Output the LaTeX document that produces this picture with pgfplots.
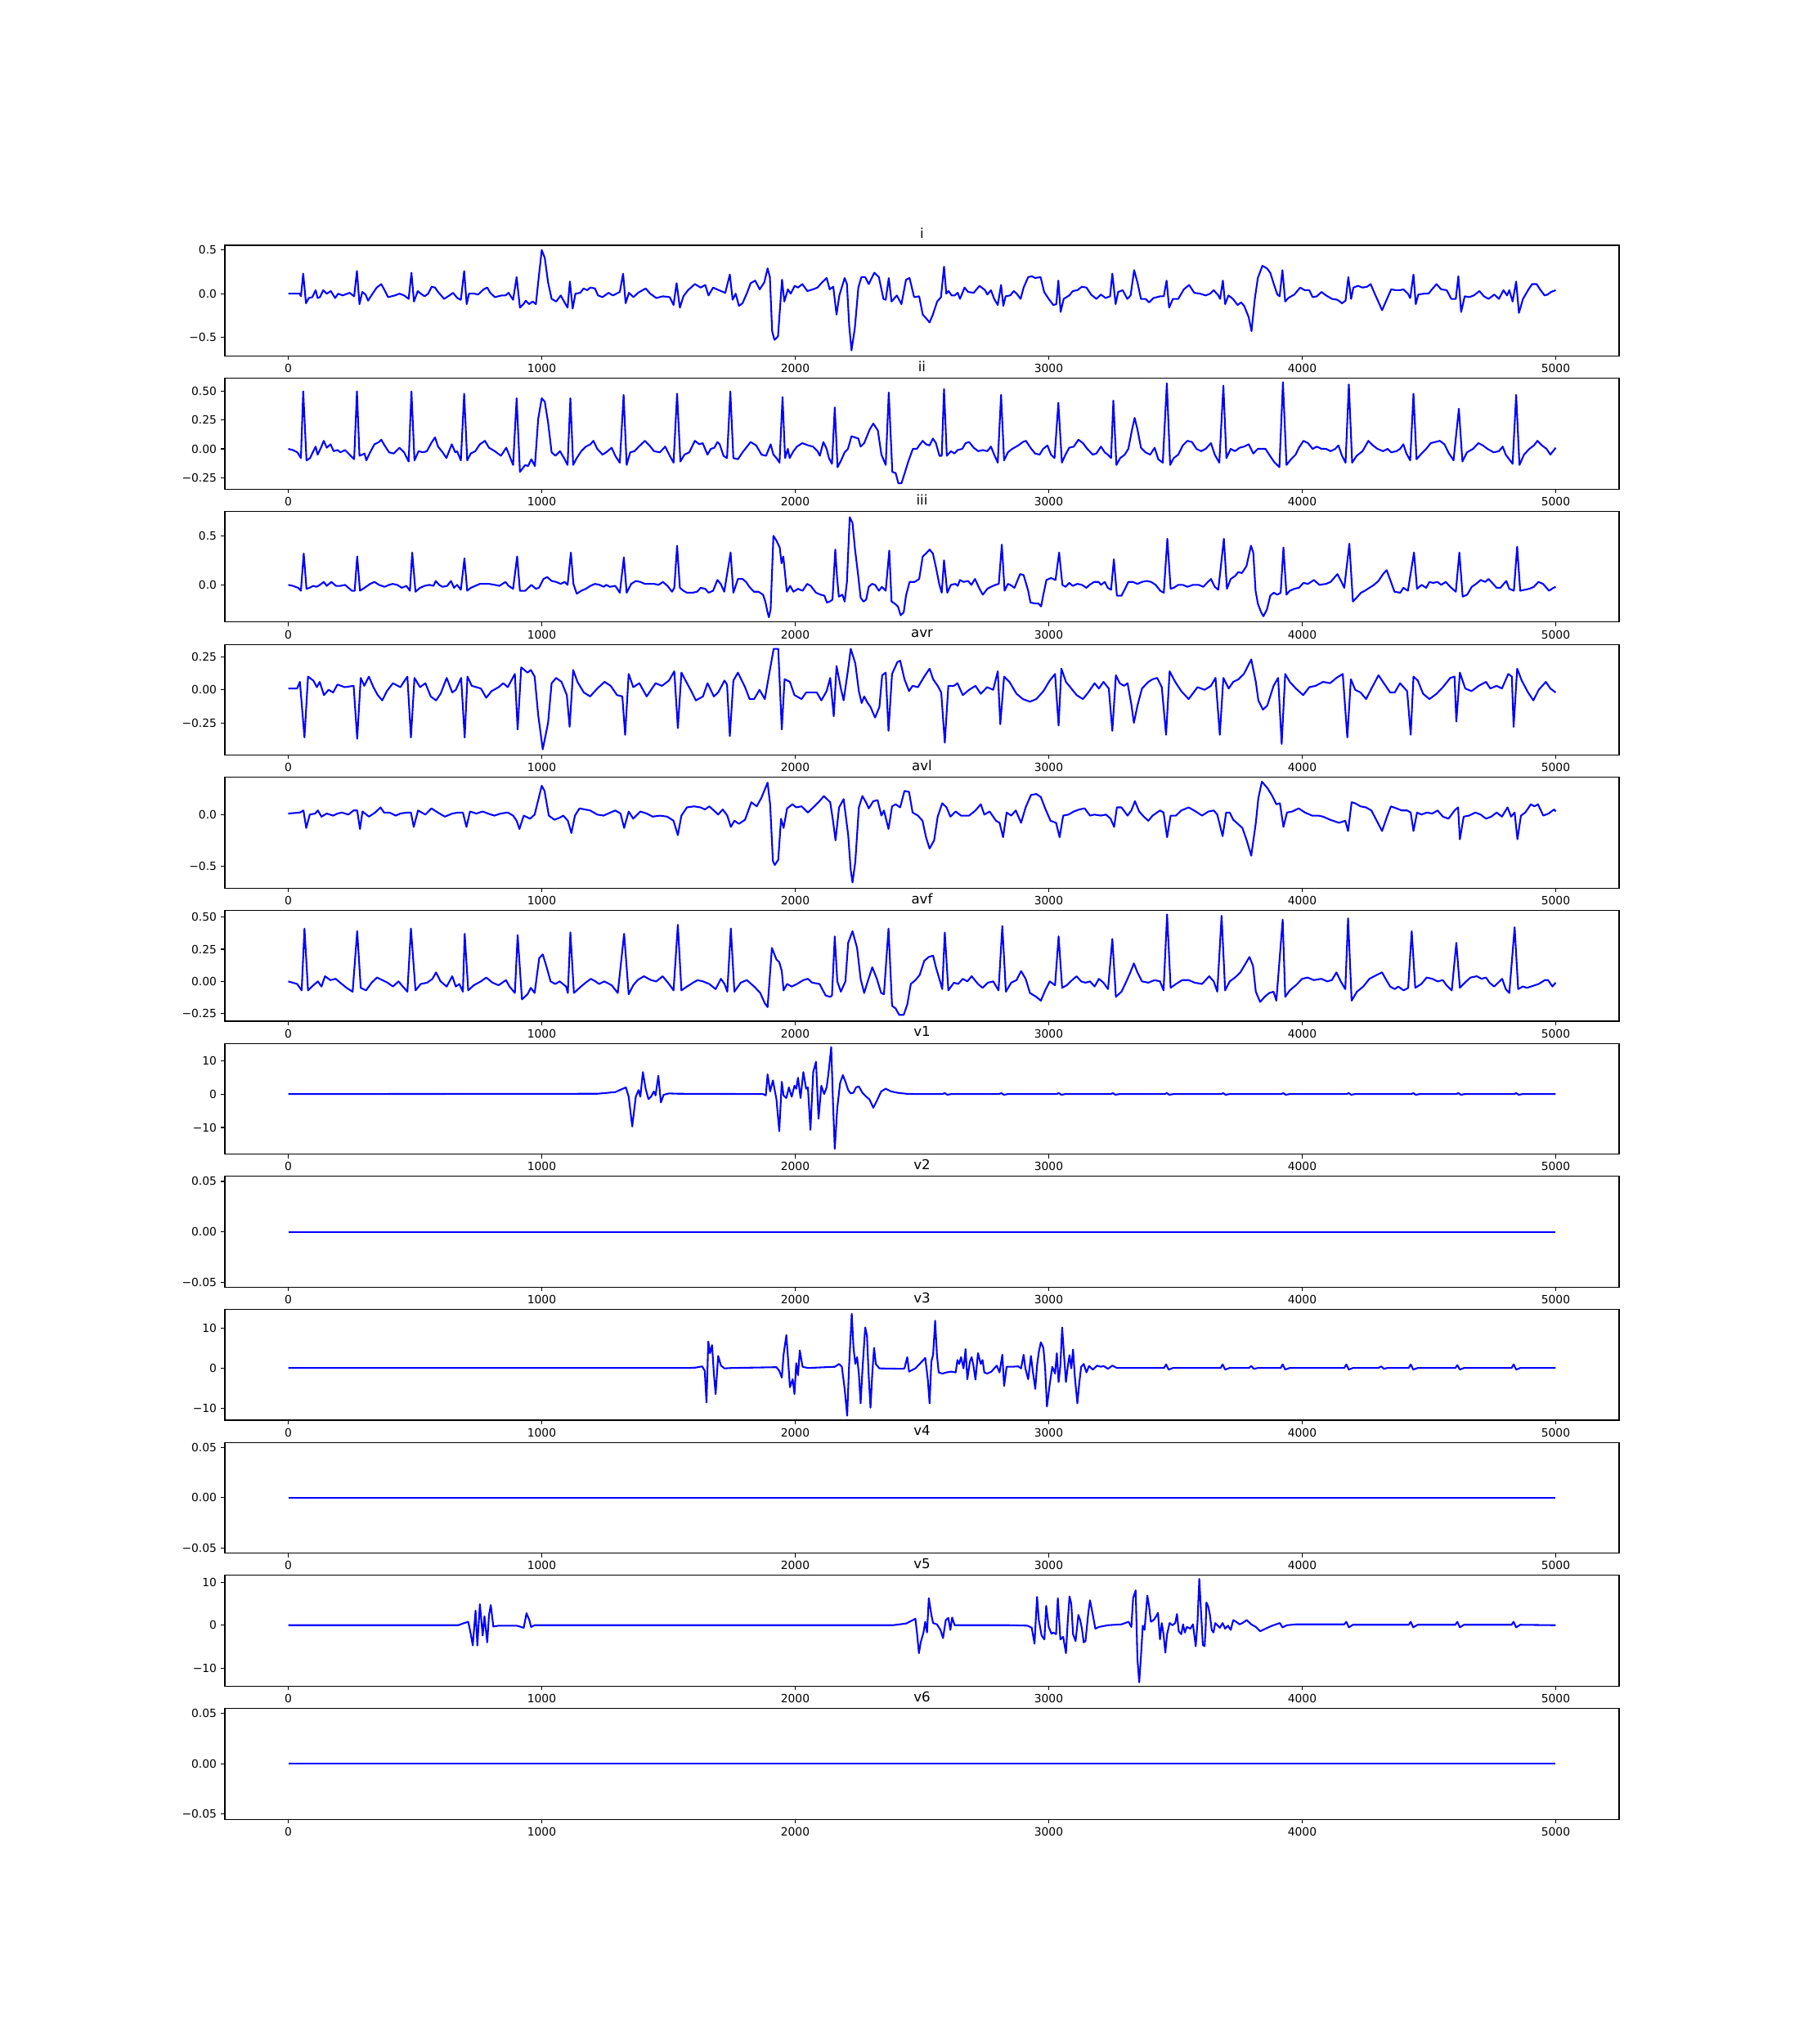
\documentclass[border=0pt]{standalone}
\usepackage{fontspec}
\setmainfont{DejaVu Sans}
\usepackage{pgfplots}
\pgfplotsset{compat=1.18}
\pgfplotsset{
  ecg/.style={
    width=17.05in, height=1.3556in, scale only axis, anchor=north west,
    xmin=-250, xmax=5250,
    xtick={0,1000,2000,3000,4000,5000},
    xticklabels={0,1000,2000,3000,4000,5000},
    tick align=outside, tick pos=left,
    major tick length=3.5pt,
    line width=0.8pt,
    every tick/.style={black, line width=0.8pt},
    tick label style={font=\fontsize{10}{12}\selectfont},
    every axis title shift=0pt,
    title style={font=\fontsize{12}{14}\selectfont, at={(0.5,1)}, anchor=base, yshift=6pt},
    scaled ticks=false,
  },
  ecgline/.style={blue, line width=1.5pt, line join=round},
  flat/.style={ymin=-0.055, ymax=0.055, ytick={-0.05,0,0.05}, yticklabels={−0.05,0.00,0.05}},
}
\begin{document}
\begin{tikzpicture}
\path (0,0) rectangle (22in,-25in);

% ---------- i ----------
\begin{axis}[ecg, at={(2.75in,-3.0in)}, title={i},
  ymin=-0.716, ymax=0.555, ytick={-0.5,0,0.5}, yticklabels={−0.5,0.0,0.5}]
\addplot[ecgline] coordinates {(0,0) (45,0) (50,-0.03) (59,0.23) (70,-0.11) (81,-0.05) (95,-0.04) (108,0.04) (116,-0.05) (125,-0.04) (138,0.04) (152,0) (168,0.03) (185,-0.05) (197,0) (215,-0.02) (242,0.01) (260,-0.03) (271,0.26) (281,-0.12) (292,0.02) (305,-0.01) (315,-0.08) (328,-0.02) (349,0.07) (367,0.11) (380,0.04) (394,-0.04) (421,-0.02) (439,0) (457,-0.02) (475,-0.06) (486,0.24) (496,-0.09) (511,0.03) (523,0) (538,-0.03) (552,0) (566,0.08) (579,0.07) (591,0.02) (615,-0.06) (636,-0.02) (650,0.01) (667,-0.05) (681,-0.07) (694,0.26) (704,-0.12) (713,0) (735,0) (749,-0.01) (771,0.05) (785,0.07) (797,0.01) (815,-0.04) (842,-0.02) (857,-0.02) (869,0.01) (887,-0.07) (901,0.19) (914,-0.16) (928,-0.12) (937,-0.08) (950,-0.12) (964,-0.09) (977,-0.12) (986,0.13) (1000,0.50) (1012,0.41) (1025,0.13) (1039,-0.06) (1057,-0.09) (1075,-0.02) (1088,-0.09) (1102,-0.16) (1111,0.14) (1122,-0.17) (1133,0) (1152,0.01) (1165,0.06) (1179,0.04) (1192,0.07) (1210,0.06) (1222,-0.02) (1240,-0.04) (1263,0.01) (1281,-0.02) (1308,0.02) (1321,0.23) (1331,-0.11) (1344,0.01) (1362,-0.04) (1380,0.01) (1410,0.06) (1428,0) (1452,-0.05) (1478,-0.03) (1505,-0.04) (1520,-0.13) (1532,0.12) (1545,-0.16) (1559,-0.03) (1577,0.04) (1604,0.11) (1627,0.07) (1645,0.10) (1658,-0.02) (1676,0.07) (1699,0.04) (1724,0.01) (1742,0.22) (1753,-0.07) (1765,0) (1778,-0.14) (1792,-0.11) (1810,0.01) (1824,0.12) (1842,0.15) (1860,0.05) (1878,0.13) (1891,0.29) (1900,0.19) (1909,-0.43) (1918,-0.53) (1932,-0.49) (1948,0.16) (1957,-0.09) (1971,0.05) (1982,0) (1998,0.09) (2011,0.07) (2028,0.11) (2048,0.03) (2070,0.05) (2088,0.07) (2106,0.13) (2124,0.18) (2136,0.05) (2150,0.08) (2163,-0.24) (2174,-0.02) (2195,0.18) (2204,0.11) (2213,-0.37) (2222,-0.65) (2235,-0.40) (2249,0.07) (2261,0.19) (2276,0.19) (2290,0.11) (2312,0.24) (2330,0.19) (2348,-0.06) (2357,-0.07) (2369,0.18) (2380,-0.09) (2401,-0.02) (2419,-0.12) (2437,0.16) (2451,0.18) (2469,-0.04) (2489,-0.03) (2503,-0.24) (2516,-0.28) (2530,-0.33) (2543,-0.24) (2560,-0.09) (2575,-0.04) (2587,0.31) (2596,0) (2605,0.03) (2617,-0.02) (2629,-0.02) (2641,0.01) (2650,-0.06) (2668,0.07) (2682,0.02) (2704,0.01) (2727,0.09) (2749,0.04) (2758,-0.01) (2772,0.04) (2785,-0.06) (2799,-0.13) (2812,0.10) (2821,-0.14) (2830,-0.03) (2848,-0.02) (2862,0.03) (2874,0) (2889,-0.06) (2901,0.07) (2919,0.19) (2934,0.20) (2946,0.18) (2968,0.19) (2982,0.02) (3000,-0.06) (3018,-0.13) (3030,-0.12) (3038,0.15) (3047,-0.21) (3059,-0.06) (3081,-0.02) (3095,0.03) (3113,0.04) (3131,0.08) (3149,0.07) (3167,-0.01) (3188,-0.06) (3206,-0.01) (3224,-0.05) (3242,-0.03) (3251,0.23) (3264,-0.12) (3274,0.02) (3292,0.04) (3310,-0.06) (3323,-0.02) (3337,0.27) (3350,0.13) (3364,-0.06) (3382,-0.06) (3396,-0.10) (3413,-0.05) (3440,-0.03) (3454,-0.03) (3465,0.15) (3475,-0.16) (3490,-0.06) (3511,-0.06) (3533,0.05) (3554,0.10) (3574,0.01) (3597,0) (3619,-0.02) (3637,0) (3651,0.04) (3669,-0.02) (3676,-0.06) (3687,0.15) (3696,-0.12) (3709,-0.02) (3727,-0.06) (3745,-0.13) (3759,-0.10) (3771,-0.14) (3789,-0.27) (3800,-0.43) (3813,-0.06) (3825,0.18) (3843,0.32) (3861,0.29) (3874,0.24) (3888,0.11) (3902,-0.01) (3911,-0.03) (3922,0.27) (3933,-0.09) (3945,-0.05) (3969,-0.01) (3992,0.07) (4010,0.04) (4028,0.04) (4041,-0.04) (4058,-0.03) (4076,0.02) (4094,-0.02) (4118,-0.06) (4139,-0.07) (4157,-0.11) (4171,-0.08) (4182,0.19) (4193,-0.06) (4202,0.07) (4220,0.09) (4238,0.07) (4256,0.08) (4270,0.11) (4286,0) (4300,-0.09) (4315,-0.19) (4333,-0.07) (4351,0.05) (4369,0.04) (4386,0.04) (4399,0.05) (4417,0) (4426,-0.05) (4439,0.22) (4448,-0.12) (4458,-0.01) (4480,0) (4498,0) (4512,0.05) (4530,0.11) (4548,0.05) (4570,0.04) (4588,-0.06) (4606,-0.06) (4616,0.20) (4627,-0.21) (4641,-0.03) (4659,-0.04) (4677,-0.02) (4699,0.03) (4717,-0.03) (4735,-0.06) (4758,-0.01) (4776,-0.06) (4794,0.04) (4808,-0.02) (4817,0.04) (4830,-0.09) (4844,0.14) (4855,-0.22) (4871,-0.06) (4893,0.05) (4907,0.11) (4925,0.11) (4938,0.05) (4956,-0.02) (4968,-0.01) (4982,0.02) (5000,0.04)};
\end{axis}

% ---------- ii ----------
\begin{axis}[ecg, at={(2.75in,-4.62682in)}, title={ii},
  ymin=-0.35, ymax=0.614, ytick={-0.25,0,0.25,0.5}, yticklabels={−0.25,0.00,0.25,0.50}]
\addplot[ecgline] coordinates {(0,0) (18,-0.01) (36,-0.03) (50,-0.08) (59,0.50) (72,-0.10) (86,-0.08) (99,-0.02) (108,0.02) (116,-0.05) (129,0.01) (140,0.07) (152,0.01) (167,0.04) (179,-0.02) (194,-0.01) (206,-0.03) (224,-0.01) (242,-0.05) (260,-0.09) (271,0.50) (281,-0.06) (292,-0.05) (301,-0.04) (308,-0.10) (323,-0.03) (340,0.04) (358,0.06) (367,0.08) (380,0.03) (398,-0.03) (416,-0.04) (439,0.01) (457,-0.03) (475,-0.11) (486,0.50) (498,-0.10) (514,-0.02) (532,-0.03) (547,-0.02) (564,0.05) (579,0.10) (591,0.02) (609,-0.03) (624,-0.08) (645,0.04) (659,-0.03) (666,-0.02) (681,-0.10) (694,0.48) (706,-0.10) (720,-0.04) (738,-0.02) (756,0.04) (776,0.07) (792,0.01) (815,-0.02) (839,-0.06) (860,0.01) (871,-0.05) (887,-0.14) (901,0.44) (914,-0.20) (935,-0.14) (946,-0.15) (959,-0.09) (973,-0.15) (986,0.26) (1000,0.44) (1012,0.41) (1025,0.23) (1039,-0.03) (1054,-0.06) (1072,-0.02) (1088,-0.08) (1102,-0.14) (1113,0.44) (1124,-0.14) (1138,-0.08) (1156,-0.02) (1174,0.02) (1192,0.04) (1204,0.07) (1219,0) (1240,-0.05) (1254,-0.03) (1276,0.01) (1290,-0.06) (1308,-0.12) (1323,0.47) (1335,-0.14) (1349,-0.03) (1366,-0.02) (1383,0.02) (1407,0.07) (1425,0.03) (1443,-0.02) (1466,-0.03) (1487,0.02) (1505,-0.06) (1520,-0.12) (1534,0.48) (1547,-0.11) (1563,-0.05) (1582,-0.03) (1604,0.07) (1622,0.04) (1635,0.05) (1654,-0.05) (1667,0) (1681,0.01) (1693,0.06) (1702,0.04) (1717,-0.06) (1731,-0.08) (1744,0.50) (1756,-0.08) (1774,-0.09) (1792,-0.03) (1810,0.02) (1824,0.06) (1846,0.03) (1867,-0.05) (1885,-0.06) (1903,0.04) (1914,-0.05) (1926,-0.08) (1938,-0.12) (1950,0.45) (1960,-0.08) (1971,0) (1978,-0.08) (1993,-0.02) (2007,0.02) (2028,0.05) (2052,0.03) (2070,0.02) (2088,-0.02) (2097,-0.06) (2111,0.06) (2124,0) (2133,-0.08) (2145,-0.13) (2156,0.36) (2167,-0.16) (2181,-0.10) (2195,-0.03) (2208,0) (2222,0.11) (2236,0.10) (2249,0.09) (2258,0.02) (2272,0.05) (2294,0.17) (2308,0.22) (2326,0.16) (2340,-0.05) (2357,-0.14) (2369,0.49) (2383,-0.20) (2396,-0.21) (2407,-0.30) (2419,-0.30) (2432,-0.21) (2446,-0.11) (2464,0) (2480,0) (2489,0.03) (2503,0.07) (2516,0.04) (2530,0.03) (2543,0.09) (2555,0.05) (2569,-0.06) (2578,-0.06) (2587,0.52) (2598,-0.06) (2614,-0.02) (2628,-0.04) (2641,-0.01) (2659,0) (2672,0.05) (2686,0.06) (2704,0.01) (2722,-0.02) (2740,-0.01) (2758,-0.02) (2772,0.02) (2785,-0.05) (2799,-0.12) (2812,0.47) (2824,-0.10) (2839,-0.03) (2856,0) (2880,0.03) (2898,0.06) (2910,0.07) (2928,0.01) (2946,-0.04) (2964,-0.05) (2978,0) (2995,0.03) (3009,-0.05) (3023,-0.08) (3038,0.40) (3052,-0.12) (3066,-0.05) (3081,0.01) (3099,0.02) (3117,0.08) (3135,0.05) (3152,0) (3174,-0.05) (3188,-0.04) (3206,0.02) (3221,-0.03) (3233,-0.05) (3246,-0.08) (3255,0.42) (3267,-0.14) (3282,-0.08) (3300,-0.05) (3314,0) (3328,0.16) (3339,0.27) (3350,0.17) (3364,0.01) (3382,-0.03) (3400,-0.05) (3418,0.01) (3432,-0.09) (3450,-0.12) (3466,0.57) (3479,-0.14) (3493,-0.08) (3511,-0.05) (3529,0.03) (3547,0.07) (3565,0.06) (3583,0) (3601,-0.02) (3619,0) (3640,0.05) (3655,-0.05) (3673,-0.12) (3689,0.55) (3701,-0.08) (3718,0) (3735,-0.02) (3753,0.01) (3771,0.02) (3789,0.04) (3807,-0.04) (3825,0) (3843,0) (3855,0) (3870,-0.05) (3888,-0.11) (3910,-0.16) (3924,0.58) (3938,-0.14) (3956,-0.09) (3974,-0.05) (3987,0.01) (4005,0.07) (4023,0.05) (4041,0) (4058,0.02) (4076,0) (4094,0) (4112,-0.02) (4130,0) (4143,0.03) (4157,-0.06) (4171,-0.12) (4184,0.56) (4197,-0.12) (4215,-0.06) (4238,-0.02) (4261,0.07) (4279,0.03) (4297,0) (4319,-0.02) (4337,0) (4351,-0.03) (4372,-0.02) (4386,0) (4399,0.04) (4411,-0.04) (4426,-0.10) (4439,0.48) (4451,-0.09) (4471,-0.04) (4489,0) (4507,0.05) (4525,0.06) (4543,0.07) (4561,0.04) (4579,-0.04) (4597,-0.10) (4618,0.35) (4632,-0.11) (4650,-0.03) (4674,0) (4695,0.05) (4713,0.03) (4731,0) (4755,-0.03) (4776,-0.02) (4791,0.02) (4803,-0.05) (4830,-0.13) (4844,0.47) (4857,-0.14) (4875,-0.05) (4896,0) (4914,0.03) (4928,0.07) (4946,0.03) (4964,0) (4979,-0.05) (5000,0.01)};
\end{axis}

% ---------- iii ----------
\begin{axis}[ecg, at={(2.75in,-6.25364in)}, title={iii},
  ymin=-0.38, ymax=0.75, ytick={0,0.5}, yticklabels={0.0,0.5}]
\addplot[ecgline] coordinates {(0,0) (18,-0.01) (39,-0.03) (50,-0.06) (61,0.32) (72,-0.04) (84,-0.03) (99,-0.01) (111,-0.02) (125,0) (140,0.03) (152,-0.01) (170,0.03) (188,-0.01) (206,-0.01) (224,0) (251,-0.06) (262,-0.06) (272,0.29) (283,-0.06) (301,-0.03) (323,0.01) (340,0.03) (358,0) (380,-0.02) (398,0) (412,0.01) (430,0) (448,-0.03) (466,-0.01) (480,-0.06) (489,0.33) (502,-0.07) (520,-0.03) (538,-0.01) (556,0) (573,-0.01) (582,0.04) (595,0) (609,-0.02) (627,-0.01) (642,0.04) (654,-0.03) (666,0) (681,-0.05) (695,0.27) (706,-0.06) (720,-0.03) (738,-0.01) (756,0.01) (774,0.01) (792,0.01) (815,0) (833,-0.01) (857,0.03) (869,-0.01) (887,-0.04) (903,0.29) (914,-0.06) (935,-0.06) (959,0) (977,-0.04) (989,-0.03) (1007,0.06) (1021,0.08) (1039,0.04) (1057,0.03) (1075,0.01) (1090,0.03) (1102,0) (1115,0.33) (1125,0.01) (1138,-0.09) (1156,-0.06) (1174,-0.04) (1192,-0.01) (1210,0.01) (1228,0) (1245,-0.02) (1254,0) (1269,-0.02) (1290,-0.01) (1308,-0.08) (1324,0.28) (1335,-0.08) (1353,0.01) (1371,0.04) (1389,0.03) (1407,0.01) (1425,0.01) (1443,0.01) (1461,0) (1478,0.03) (1496,-0.01) (1514,-0.07) (1523,-0.03) (1534,0.40) (1545,-0.03) (1559,-0.06) (1573,-0.08) (1595,-0.08) (1613,-0.07) (1627,-0.03) (1645,-0.04) (1658,-0.08) (1676,-0.06) (1693,0.05) (1706,0.01) (1720,-0.07) (1745,0.33) (1756,-0.08) (1774,0.06) (1792,0.06) (1806,0.03) (1819,-0.02) (1837,-0.07) (1855,-0.07) (1873,-0.10) (1882,-0.17) (1891,-0.28) (1896,-0.33) (1903,-0.25) (1914,0.50) (1926,0.45) (1939,0.38) (1946,0.22) (1953,0.29) (1960,0.11) (1967,-0.07) (1980,-0.01) (1993,-0.07) (2011,-0.04) (2029,-0.06) (2047,0.01) (2061,-0.01) (2082,-0.08) (2100,-0.10) (2115,-0.11) (2125,-0.18) (2136,-0.17) (2147,-0.15) (2158,0.36) (2165,0.08) (2172,-0.12) (2186,-0.10) (2195,-0.17) (2204,0.03) (2215,0.69) (2226,0.63) (2236,0.36) (2249,0.08) (2258,-0.13) (2269,-0.17) (2280,-0.15) (2290,-0.02) (2303,0.01) (2315,0) (2330,-0.06) (2342,-0.02) (2357,-0.06) (2371,0.35) (2380,-0.17) (2392,-0.19) (2405,-0.22) (2416,-0.31) (2428,-0.28) (2437,-0.11) (2451,0.03) (2471,0.03) (2489,0.06) (2503,0.29) (2516,0.32) (2530,0.36) (2543,0.32) (2555,0.18) (2568,0.01) (2578,-0.08) (2587,0.25) (2600,-0.08) (2614,0) (2632,0.01) (2641,-0.01) (2650,0.05) (2664,0.03) (2682,0.04) (2695,0) (2709,0.06) (2727,-0.04) (2740,-0.10) (2758,-0.04) (2772,-0.02) (2790,0) (2803,0.01) (2815,0.41) (2826,-0.06) (2839,0.01) (2848,0) (2865,-0.03) (2887,0.11) (2901,0.10) (2919,-0.06) (2928,-0.18) (2946,-0.19) (2959,-0.19) (2970,-0.22) (2978,-0.11) (2991,0.05) (3009,0.07) (3027,0.05) (3041,0.33) (3054,0) (3066,-0.02) (3081,0.02) (3095,-0.01) (3113,0.01) (3131,0) (3149,-0.03) (3161,0) (3179,0.03) (3197,0.03) (3206,0) (3221,0.03) (3233,-0.03) (3246,-0.05) (3257,0.26) (3269,-0.11) (3287,-0.11) (3303,-0.03) (3314,0.03) (3332,0.03) (3350,0.01) (3368,0.03) (3386,0.04) (3404,0.03) (3422,0) (3440,-0.06) (3454,-0.08) (3468,0.47) (3481,-0.04) (3493,-0.03) (3511,0) (3529,0) (3547,-0.02) (3569,0) (3592,0) (3610,-0.02) (3628,0.03) (3640,0.06) (3655,-0.02) (3669,-0.05) (3691,0.47) (3703,-0.04) (3718,0.06) (3735,0.09) (3748,0.13) (3762,0.12) (3780,0.19) (3798,0.40) (3807,0.33) (3816,-0.06) (3825,-0.19) (3838,-0.28) (3847,-0.32) (3861,-0.25) (3874,-0.11) (3888,-0.08) (3902,-0.10) (3915,-0.08) (3926,0.38) (3938,-0.10) (3951,-0.06) (3969,-0.04) (3987,-0.03) (4005,0.02) (4023,0.01) (4046,0.05) (4068,0) (4094,0.01) (4112,0.03) (4139,0.11) (4153,0.04) (4166,-0.03) (4186,0.42) (4200,-0.17) (4215,-0.13) (4232,-0.08) (4247,-0.06) (4265,-0.03) (4283,0) (4301,0.04) (4319,0.11) (4333,0.15) (4346,0.06) (4364,-0.07) (4387,-0.08) (4399,-0.03) (4417,-0.06) (4441,0.33) (4453,-0.04) (4471,0) (4489,-0.03) (4502,0.03) (4516,0.02) (4534,0.03) (4548,0) (4566,0.03) (4584,-0.02) (4606,-0.07) (4620,0.33) (4633,-0.12) (4651,-0.10) (4669,-0.02) (4686,0.01) (4704,0.05) (4722,0.03) (4735,0.06) (4753,0.01) (4767,-0.03) (4782,-0.03) (4805,0.04) (4817,-0.04) (4835,-0.06) (4848,0.39) (4860,-0.06) (4878,-0.05) (4896,-0.04) (4914,-0.02) (4932,0.03) (4950,0.01) (4974,-0.06) (4991,-0.03) (5000,-0.02)};
\end{axis}

% ---------- avr ----------
\begin{axis}[ecg, at={(2.75in,-7.88046in)}, title={avr},
  ymin=-0.494, ymax=0.344, ytick={-0.25,0,0.25}, yticklabels={−0.25,0.00,0.25}]
\addplot[ecgline] coordinates {(0,0.01) (35,0.01) (46,0.06) (64,-0.36) (78,0.10) (99,0.07) (113,0.02) (124,0.06) (141,-0.04) (159,0) (177,-0.02) (194,0.04) (223,0.02) (258,0.03) (272,-0.37) (286,0.09) (300,0.03) (318,0.10) (336,0.02) (353,-0.04) (371,-0.08) (389,-0.01) (413,0.05) (442,0.02) (470,0.10) (484,-0.36) (498,0.09) (520,0.02) (541,0.05) (562,-0.05) (583,-0.08) (601,-0.03) (625,0.09) (647,-0.02) (661,0) (682,0.09) (696,-0.36) (707,0.10) (724,0.03) (760,0.01) (781,-0.06) (802,-0.01) (830,0.02) (848,0.05) (866,0.02) (894,0.12) (905,-0.30) (919,0.17) (944,0.13) (957,0.15) (972,0.10) (986,-0.19) (1004,-0.45) (1025,-0.25) (1039,0.05) (1057,0.09) (1078,0.06) (1099,-0.04) (1110,-0.28) (1124,0.15) (1141,0.06) (1166,-0.02) (1191,-0.05) (1219,0.01) (1248,0.06) (1272,0.03) (1297,-0.04) (1318,-0.05) (1329,-0.34) (1343,0.12) (1361,0.02) (1385,0.05) (1414,-0.05) (1449,0.05) (1474,0.03) (1502,0.07) (1523,0.14) (1537,-0.29) (1551,0.13) (1573,0.05) (1590,-0.01) (1608,-0.08) (1636,-0.05) (1654,0.05) (1679,-0.05) (1696,-0.02) (1721,0.07) (1731,0.04) (1742,-0.35) (1756,0.07) (1774,0.13) (1802,0.02) (1820,-0.07) (1838,-0.07) (1859,0) (1880,-0.07) (1901,0.16) (1915,0.31) (1933,0.31) (1947,-0.30) (1958,0.08) (1979,0.06) (1997,-0.04) (2025,-0.07) (2043,-0.02) (2067,-0.02) (2085,-0.02) (2103,-0.08) (2124,-0.01) (2138,0.09) (2152,-0.20) (2163,0.18) (2180,0.01) (2191,-0.08) (2209,0.16) (2219,0.31) (2237,0.20) (2251,-0.01) (2262,-0.10) (2272,-0.05) (2286,-0.10) (2297,-0.13) (2315,-0.21) (2332,-0.13) (2343,0.11) (2357,0.13) (2368,-0.31) (2382,0.12) (2403,0.21) (2414,0.22) (2431,0.08) (2449,-0.01) (2463,0.03) (2484,0.02) (2509,0.10) (2530,0.16) (2544,0.08) (2562,0.03) (2576,-0.02) (2590,-0.40) (2604,0.03) (2626,0.03) (2640,0.05) (2661,-0.04) (2686,0) (2711,0.03) (2732,-0.03) (2757,0.02) (2781,0) (2799,0.14) (2809,-0.26) (2824,0.10) (2845,0.06) (2873,-0.03) (2898,-0.07) (2926,-0.09) (2951,-0.07) (2979,-0.01) (3004,0.07) (3025,0.12) (3039,-0.27) (3050,0.16) (3068,0.06) (3085,0.02) (3110,-0.04) (3135,-0.07) (3156,-0.02) (3181,0.05) (3198,0.01) (3216,0.06) (3237,0.01) (3251,-0.31) (3265,0.11) (3280,0.05) (3297,0.03) (3311,0.05) (3326,-0.11) (3336,-0.25) (3350,-0.12) (3368,0.01) (3393,0.06) (3410,0.08) (3428,0.09) (3446,0.02) (3463,-0.34) (3477,0.14) (3499,0.06) (3523,-0.01) (3552,-0.07) (3587,0.02) (3615,0) (3640,0.03) (3658,0.09) (3675,-0.34) (3689,0.09) (3710,0.01) (3728,0.06) (3749,0.08) (3770,0.12) (3799,0.23) (3817,0.06) (3827,-0.08) (3845,-0.15) (3862,-0.12) (3887,0.03) (3905,0.09) (3919,-0.41) (3933,0.12) (3951,0.06) (3975,0.01) (4004,-0.04) (4028,0.02) (4053,0.03) (4082,0.06) (4110,0.05) (4135,0.09) (4160,0.12) (4178,-0.36) (4192,0.08) (4209,0) (4230,-0.02) (4252,-0.07) (4276,0.02) (4301,0.11) (4322,0.05) (4347,-0.02) (4365,-0.02) (4386,0.05) (4414,-0.01) (4428,-0.34) (4439,0.10) (4456,0.07) (4477,-0.03) (4502,-0.07) (4530,-0.03) (4555,0.02) (4584,0.09) (4601,0.10) (4608,-0.24) (4622,0.13) (4643,0.01) (4668,-0.01) (4696,0.03) (4725,0.06) (4742,0.01) (4767,0.03) (4788,0.01) (4813,0.12) (4827,0.10) (4834,-0.28) (4848,0.16) (4866,0.07) (4891,-0.02) (4912,-0.08) (4933,0) (4961,0.06) (4979,0.01) (5000,-0.02)};
\end{axis}

% ---------- avl ----------
\begin{axis}[ecg, at={(2.75in,-9.50728in)}, title={avl},
  ymin=-0.715, ymax=0.362, ytick={-0.5,0}, yticklabels={−0.5,0.0}]
\addplot[ecgline] coordinates {(0,0.01) (46,0.02) (60,0.04) (71,-0.13) (85,0) (106,0.01) (117,0.04) (131,-0.02) (152,0.01) (177,-0.01) (194,0.01) (212,0.02) (237,0) (258,0.04) (272,0.04) (283,-0.14) (293,0.03) (318,-0.02) (343,0.02) (364,0.07) (378,0.02) (399,0.02) (424,-0.01) (442,0.01) (470,0.02) (484,0.02) (495,-0.12) (512,0.04) (541,0) (565,0.06) (590,0.02) (618,-0.02) (647,0.01) (671,0.02) (689,0.02) (703,-0.12) (717,0.03) (742,0.01) (767,0.03) (788,0.01) (813,-0.01) (838,0.01) (866,0.02) (887,-0.01) (901,-0.06) (912,-0.14) (929,-0.01) (954,-0.04) (972,0) (990,0.18) (1000,0.28) (1011,0.23) (1028,-0.01) (1050,-0.05) (1071,-0.03) (1085,-0.01) (1103,-0.06) (1117,-0.18) (1131,-0.01) (1149,0.06) (1170,0.05) (1191,0.04) (1219,0) (1244,-0.01) (1262,0.01) (1290,0.04) (1311,0.01) (1325,-0.13) (1343,0.03) (1361,-0.04) (1389,0.03) (1414,0.01) (1438,-0.02) (1466,-0.01) (1495,-0.02) (1520,-0.06) (1537,-0.20) (1551,-0.01) (1573,0.07) (1601,0.08) (1626,0.07) (1644,0.05) (1661,0.08) (1679,0.04) (1696,0) (1714,0.05) (1732,-0.01) (1746,-0.12) (1760,-0.06) (1778,-0.09) (1802,-0.05) (1827,0.12) (1848,0.08) (1866,0.16) (1891,0.31) (1901,0.10) (1912,-0.45) (1919,-0.49) (1933,-0.44) (1944,-0.04) (1954,-0.13) (1968,0.06) (1989,0.10) (2004,0.07) (2025,0.08) (2050,0.02) (2067,0.06) (2092,0.12) (2113,0.18) (2138,0.12) (2149,-0.06) (2159,-0.25) (2173,0.07) (2191,0.15) (2209,-0.20) (2219,-0.54) (2226,-0.66) (2237,-0.46) (2251,0.07) (2265,0.18) (2279,0.12) (2290,0.06) (2308,0.13) (2325,0.14) (2340,-0.01) (2350,0.04) (2368,-0.14) (2382,0.08) (2396,0.10) (2414,0.07) (2431,0.23) (2449,0.22) (2463,0.02) (2484,-0.01) (2502,-0.06) (2516,-0.22) (2530,-0.33) (2548,-0.25) (2562,-0.02) (2580,0.11) (2597,0.07) (2612,-0.02) (2633,0.03) (2654,-0.01) (2668,-0.01) (2686,-0.01) (2711,0.04) (2732,0.10) (2746,0) (2767,0.03) (2792,-0.06) (2806,-0.08) (2820,-0.22) (2834,0.02) (2852,-0.01) (2870,0.04) (2891,-0.08) (2909,0.07) (2930,0.19) (2951,0.20) (2969,0.17) (2986,0.06) (3007,-0.06) (3029,-0.08) (3043,-0.22) (3057,-0.01) (3078,0) (3099,0.03) (3121,0.05) (3142,0.06) (3163,-0.01) (3180,0) (3205,-0.01) (3226,0) (3244,-0.04) (3258,-0.12) (3269,0.07) (3287,0.07) (3311,-0.01) (3326,0.04) (3340,0.13) (3357,0.03) (3375,-0.02) (3393,-0.06) (3410,-0.01) (3439,0.04) (3453,0.02) (3467,-0.22) (3481,-0.01) (3502,-0.01) (3523,0.04) (3552,0.07) (3580,0.03) (3605,-0.01) (3630,0.03) (3651,0.04) (3665,0) (3686,-0.21) (3700,0.02) (3714,0.02) (3728,-0.05) (3746,-0.09) (3764,-0.13) (3781,-0.25) (3799,-0.40) (3817,-0.08) (3827,0.16) (3841,0.32) (3862,0.26) (3880,0.19) (3898,0.10) (3912,0.11) (3926,-0.12) (3940,0.02) (3961,0.03) (3986,0.06) (4011,0.02) (4039,-0.01) (4064,-0.01) (4082,-0.02) (4110,-0.05) (4145,-0.08) (4170,-0.06) (4181,-0.16) (4195,0.12) (4209,0.11) (4230,0.08) (4251,0.07) (4273,0.04) (4294,-0.06) (4315,-0.16) (4336,-0.01) (4350,0.08) (4372,0.06) (4393,0.04) (4414,0.04) (4428,0.02) (4439,-0.16) (4453,0.02) (4470,0) (4492,0.02) (4513,0.01) (4534,0.04) (4555,-0.02) (4577,-0.04) (4601,0.04) (4615,0.07) (4622,-0.24) (4637,-0.02) (4658,-0.01) (4683,0.02) (4704,0) (4725,-0.04) (4746,-0.02) (4767,0.02) (4788,-0.02) (4810,0.07) (4824,-0.02) (4838,0.02) (4849,-0.24) (4863,-0.01) (4880,0.02) (4902,0.10) (4916,0.08) (4930,0.10) (4951,-0.01) (4972,0.01) (4994,0.05) (5000,0.03)};
\end{axis}

% ---------- avf ----------
\begin{axis}[ecg, at={(2.75in,-11.1341in)}, title={avf},
  ymin=-0.309, ymax=0.552, ytick={-0.25,0,0.25,0.5}, yticklabels={−0.25,0.00,0.25,0.50}]
\addplot[ecgline] coordinates {(0,0) (35,-0.02) (53,-0.07) (64,0.41) (78,-0.07) (99,-0.03) (117,0) (131,-0.04) (145,0.04) (166,0.01) (187,0.02) (205,-0.01) (230,-0.05) (254,-0.08) (272,0.39) (286,-0.05) (307,-0.07) (329,-0.01) (350,0.03) (371,0.01) (392,-0.01) (413,-0.04) (435,0) (452,-0.04) (470,-0.08) (484,0.41) (502,-0.07) (523,-0.02) (548,-0.01) (569,0.02) (583,0.07) (601,0) (625,-0.04) (647,0.04) (661,-0.04) (675,-0.02) (689,-0.08) (696,0.37) (710,-0.07) (732,-0.03) (760,0) (781,0.03) (806,-0.01) (830,-0.03) (859,0.01) (873,-0.04) (894,-0.09) (905,0.36) (922,-0.14) (944,-0.10) (957,-0.05) (972,-0.09) (990,0.18) (1004,0.21) (1018,0.12) (1035,0) (1053,-0.02) (1071,0) (1096,-0.04) (1103,-0.09) (1113,0.38) (1127,-0.09) (1149,-0.05) (1173,-0.01) (1194,0.02) (1212,0) (1226,-0.02) (1247,0) (1276,-0.03) (1300,-0.09) (1325,0.37) (1343,-0.10) (1361,-0.03) (1378,0.01) (1403,0.04) (1431,0.01) (1452,0) (1477,0.04) (1502,-0.02) (1520,-0.07) (1537,0.44) (1551,-0.07) (1573,-0.04) (1597,-0.01) (1615,0.01) (1636,0) (1661,-0.02) (1686,-0.06) (1707,0.02) (1721,-0.02) (1732,-0.08) (1746,0.41) (1760,-0.08) (1785,-0.01) (1809,0.01) (1838,-0.04) (1862,-0.09) (1880,-0.17) (1891,-0.20) (1908,0.26) (1926,0.17) (1937,0.15) (1947,0.08) (1954,-0.07) (1968,-0.02) (1986,-0.04) (2007,-0.02) (2032,0.01) (2050,0.02) (2067,-0.01) (2096,-0.02) (2120,-0.11) (2138,-0.12) (2145,-0.11) (2156,0.35) (2166,0) (2180,-0.08) (2198,0) (2209,0.30) (2226,0.39) (2244,0.26) (2258,0.02) (2272,-0.09) (2286,0) (2304,0.11) (2322,0.02) (2339,-0.09) (2350,-0.10) (2368,0.41) (2382,-0.19) (2396,-0.21) (2410,-0.26) (2428,-0.26) (2442,-0.18) (2456,-0.02) (2474,0.01) (2491,0.05) (2509,0.16) (2527,0.19) (2544,0.20) (2555,0.11) (2573,-0.01) (2580,-0.06) (2590,0.38) (2604,-0.07) (2626,-0.01) (2643,-0.02) (2661,0.02) (2679,0) (2696,0.04) (2721,-0.02) (2739,-0.05) (2760,-0.01) (2781,0) (2802,-0.07) (2817,0.43) (2831,-0.08) (2852,-0.01) (2873,0.01) (2891,0.08) (2909,0.02) (2926,-0.09) (2951,-0.12) (2969,-0.15) (2986,-0.07) (3004,0) (3025,-0.03) (3039,0.35) (3053,-0.05) (3071,-0.03) (3092,0.01) (3110,0.04) (3128,0) (3145,-0.01) (3163,0) (3181,-0.04) (3198,0.02) (3216,-0.01) (3234,-0.06) (3251,0.33) (3265,-0.12) (3287,-0.08) (3304,-0.01) (3322,0.07) (3336,0.14) (3350,0.07) (3368,0) (3393,-0.01) (3418,0.01) (3439,0) (3453,-0.07) (3467,0.52) (3481,-0.05) (3502,-0.02) (3527,0.01) (3552,0.01) (3576,-0.01) (3605,-0.02) (3633,0.04) (3651,0) (3665,-0.08) (3682,0.51) (3696,-0.07) (3714,0) (3735,0.03) (3756,0.07) (3774,0.13) (3792,0.19) (3806,0.12) (3817,-0.08) (3834,-0.16) (3852,-0.12) (3870,-0.09) (3887,-0.08) (3898,-0.15) (3923,0.48) (3933,-0.12) (3951,-0.07) (3975,-0.03) (4000,0.02) (4021,0.03) (4046,0.01) (4075,0.02) (4099,0) (4117,0.01) (4135,0.07) (4152,0) (4170,-0.06) (4181,0.49) (4195,-0.15) (4216,-0.08) (4241,-0.04) (4265,0.02) (4294,0.05) (4315,0.07) (4329,0.02) (4347,-0.04) (4365,-0.06) (4379,-0.04) (4400,-0.07) (4418,-0.05) (4432,0.39) (4446,-0.05) (4470,-0.02) (4491,0.03) (4513,0.02) (4534,0) (4555,0.01) (4569,-0.03) (4590,-0.07) (4608,0.30) (4622,-0.05) (4647,0) (4664,0.03) (4689,0.04) (4707,0.02) (4725,0.03) (4739,-0.01) (4757,-0.04) (4789,0.02) (4803,-0.06) (4817,-0.09) (4838,0.42) (4852,-0.06) (4870,-0.04) (4887,-0.05) (4933,-0.02) (4957,0.01) (4970,0.01) (4987,-0.04) (5000,-0.01)};
\end{axis}

% ---------- v1 ----------
\begin{axis}[ecg, at={(2.75in,-12.7609in)}, title={v1},
  ymin=-18.0, ymax=15.2, ytick={-10,0,10}, yticklabels={−10,0,10}]
\addplot[ecgline] coordinates {(0,0) (1219,0.1) (1290,0.6) (1332,2.0) (1343,-0.8) (1357,-9.7) (1371,-0.8) (1382,1.2) (1389,-0.8) (1399,6.6) (1410,1.6) (1421,-1.5) (1431,-0.8) (1442,0.8) (1449,-0.4) (1460,5.5) (1470,-2.5) (1481,-0.2) (1502,0.2) (1540,0.1) (1873,0) (1884,-0.4) (1891,5.9) (1901,0.8) (1912,4.1) (1926,-1.6) (1937,-11.1) (1947,3.7) (1954,-0.4) (1965,-1.2) (1975,2.0) (1986,-0.8) (1997,2.5) (2004,1.6) (2011,4.9) (2021,-1.2) (2032,6.6) (2043,1.6) (2050,2.0) (2060,-10.7) (2071,6.6) (2082,9.7) (2092,-7.4) (2103,2.5) (2114,0) (2124,2.0) (2131,6.1) (2142,14.1) (2149,-2.5) (2156,-16.4) (2166,-4.1) (2177,3.3) (2188,5.7) (2198,3.7) (2209,1.2) (2219,0.2) (2230,0.4) (2240,2.0) (2251,2.3) (2265,0.4) (2279,-0.7) (2293,-1.6) (2308,-4.1) (2322,-2.0) (2339,0.8) (2357,1.6) (2378,0.8) (2403,0.4) (2438,0.1) (2480,0) (2580,0) (2590,0.3) (2600,-0.2) (2615,0) (2803,0) (2813,0.3) (2823,-0.2) (2838,0) (3030,0) (3040,0.3) (3050,-0.2) (3065,0) (3245,0) (3253,0.3) (3263,-0.2) (3278,0) (3458,0) (3466,0.3) (3476,-0.2) (3491,0) (3680,0) (3688,0.3) (3698,-0.2) (3713,0) (3917,0) (3925,0.3) (3935,-0.2) (3950,0) (4175,0) (4183,0.3) (4193,-0.2) (4208,0) (4430,0) (4438,0.3) (4448,-0.2) (4463,0) (4608,0) (4616,0.3) (4626,-0.2) (4641,0) (4836,0) (4844,0.3) (4854,-0.2) (4869,0) (5000,0)};
\end{axis}

% ---------- v2 ----------
\begin{axis}[ecg, flat, at={(2.75in,-14.3877in)}, title={v2}]
\addplot[ecgline] coordinates {(0,0) (5000,0)};
\end{axis}

% ---------- v3 ----------
\begin{axis}[ecg, at={(2.75in,-16.0145in)}, title={v3},
  ymin=-13.0, ymax=14.6, ytick={-10,0,10}, yticklabels={−10,0,10}]
\addplot[ecgline] coordinates {(0,0) (1573,0) (1608,0.1) (1633,0.4) (1643,-0.7) (1650,-8.6) (1657,6.6) (1664,3.7) (1672,5.7) (1679,-1.4) (1686,-6.5) (1696,3.0) (1707,0.6) (1721,-0.1) (1749,0) (1926,0.2) (1937,-0.7) (1947,-2.4) (1954,3.3) (1965,8.2) (1972,2.0) (1979,-4.8) (1990,-2.8) (1997,-6.5) (2004,1.2) (2011,-1.8) (2018,4.4) (2029,0.3) (2050,0) (2156,0.3) (2173,1.0) (2184,0.3) (2195,-5.2) (2205,-11.9) (2212,-0.1) (2223,13.5) (2230,5.0) (2237,1.0) (2244,2.7) (2251,-1.4) (2258,-8.8) (2265,-0.7) (2276,10.1) (2283,8.1) (2290,-2.1) (2297,-9.9) (2304,-1.4) (2311,5.0) (2318,1.0) (2332,-0.1) (2421,-0.2) (2431,-0.1) (2442,2.7) (2449,-0.9) (2474,-0.1) (2513,2.5) (2523,-2.8) (2530,-8.8) (2537,1.6) (2544,3.3) (2552,11.8) (2559,3.3) (2566,-1.1) (2580,-1.4) (2597,-1.1) (2615,-0.9) (2633,-1.1) (2640,2.0) (2647,1.0) (2654,2.7) (2664,-0.1) (2672,4.7) (2679,-2.8) (2689,1.6) (2696,2.7) (2703,0.6) (2711,-2.9) (2721,3.7) (2732,1.0) (2739,2.0) (2746,-1.1) (2757,-1.4) (2774,-0.9) (2785,-0.1) (2795,0.6) (2806,-1.1) (2817,3.3) (2824,-4.5) (2834,0.3) (2852,0.3) (2880,0.4) (2891,-0.1) (2901,3.3) (2908,-0.1) (2919,-2.8) (2930,3.0) (2937,-0.7) (2947,-5.2) (2954,0.6) (2961,4.0) (2969,6.4) (2979,5.0) (2986,-0.1) (2993,-9.6) (3004,-4.1) (3014,0.3) (3025,-1.4) (3032,3.7) (3039,-3.5) (3046,0.6) (3053,10.1) (3061,2.7) (3068,-3.5) (3075,0.3) (3082,3.2) (3089,-0.1) (3096,4.6) (3103,-2.1) (3113,-8.8) (3121,-3.5) (3128,0.3) (3138,1.0) (3149,-1.1) (3159,0.5) (3174,-0.4) (3191,0.6) (3205,0.3) (3216,0.5) (3234,-0.2) (3251,0.6) (3269,0) (3455,0) (3463,0.9) (3473,-0.4) (3490,0) (3678,0) (3686,0.9) (3696,-0.4) (3713,0) (3790,0) (3799,0.5) (3809,-0.2) (3825,0) (3915,0) (3923,0.9) (3933,-0.4) (3950,0) (4166,0) (4174,0.9) (4184,-0.4) (4200,0) (4300,0) (4312,0.4) (4322,-0.2) (4335,0) (4420,0) (4428,0.9) (4438,-0.4) (4455,0) (4604,0) (4612,0.7) (4622,-0.4) (4638,0) (4826,0) (4834,0.9) (4844,-0.4) (4860,0) (5000,0)};
\end{axis}

% ---------- v4 ----------
\begin{axis}[ecg, flat, at={(2.75in,-17.6413in)}, title={v4}]
\addplot[ecgline] coordinates {(0,0) (5000,0)};
\end{axis}

% ---------- v5 ----------
\begin{axis}[ecg, at={(2.75in,-19.2681in)}, title={v5},
  ymin=-14.2, ymax=11.6, ytick={-10,0,10}, yticklabels={−10,0,10}]
\addplot[ecgline] coordinates {(0,0) (671,0) (689,0.4) (710,0.8) (717,-1.1) (728,-4.7) (739,3.4) (746,-4.7) (756,4.9) (767,-2.4) (774,2.1) (785,-4.0) (792,2.4) (799,4.7) (809,-0.3) (831,-0.1) (901,-0.1) (929,-0.6) (940,2.8) (951,1.2) (958,-0.4) (972,0) (2385,0) (2438,0.4) (2474,1.5) (2481,-2.1) (2488,-6.5) (2495,-4.0) (2506,-1.7) (2513,0.8) (2520,-1.7) (2527,6.3) (2537,2.4) (2544,0.5) (2559,0.2) (2573,-1.1) (2583,-3.0) (2594,1.2) (2604,1.7) (2612,-1.1) (2619,1.8) (2629,0) (2845,0) (2916,-0.1) (2933,-0.6) (2944,-4.3) (2954,6.6) (2961,1.2) (2972,-2.4) (2983,-3.3) (2990,4.5) (3000,-0.4) (3011,-2.0) (3018,-1.7) (3029,-2.1) (3036,6.3) (3046,-3.3) (3057,-2.7) (3068,-6.5) (3075,0.8) (3082,6.7) (3089,5.0) (3096,-2.1) (3106,-3.7) (3117,2.4) (3124,1.2) (3131,-0.8) (3138,-4.0) (3145,-3.7) (3156,2.8) (3163,5.8) (3174,2.4) (3184,-0.8) (3198,-0.4) (3234,0) (3287,0.2) (3315,0.8) (3326,-0.4) (3333,6.3) (3343,8.1) (3350,-7.8) (3357,-13.3) (3364,-7.2) (3371,-0.1) (3378,-1.1) (3389,6.9) (3396,4.4) (3403,0.8) (3414,1.2) (3424,2.1) (3431,2.9) (3439,-3.3) (3446,0.5) (3453,-2.1) (3460,-6.4) (3467,-2.1) (3477,0.5) (3488,0) (3499,0.5) (3506,2.6) (3513,-1.4) (3523,-2.1) (3530,0.2) (3537,-1.7) (3545,-0.4) (3559,-0.8) (3569,0.2) (3580,-4.9) (3587,0.8) (3594,10.8) (3601,3.1) (3608,-4.6) (3615,-4.9) (3619,-0.8) (3622,5.3) (3629,4.4) (3636,2.4) (3643,-1.1) (3650,-1.7) (3657,0.5) (3675,-0.6) (3686,0.5) (3696,-0.8) (3707,-0.1) (3718,-1.1) (3728,1.2) (3739,0.8) (3753,0.2) (3764,0.5) (3781,1.2) (3799,0.2) (3817,-0.4) (3834,-1.4) (3852,-0.9) (3870,-0.4) (3887,0) (3912,0.5) (3922,-0.5) (3940,0) (3976,0.2) (4028,0.2) (4116,0.2) (4166,0.2) (4174,0.8) (4184,-0.5) (4200,0.1) (4420,0.1) (4428,0.8) (4438,-0.5) (4455,0.1) (4604,0.1) (4612,0.8) (4622,-0.5) (4638,0.1) (4826,0.1) (4834,0.8) (4844,-0.5) (4860,0.1) (5000,0)};
\end{axis}

% ---------- v6 ----------
\begin{axis}[ecg, flat, at={(2.75in,-20.8949in)}, title={v6}]
\addplot[ecgline] coordinates {(0,0) (5000,0)};
\end{axis}
\end{tikzpicture}
\end{document}
